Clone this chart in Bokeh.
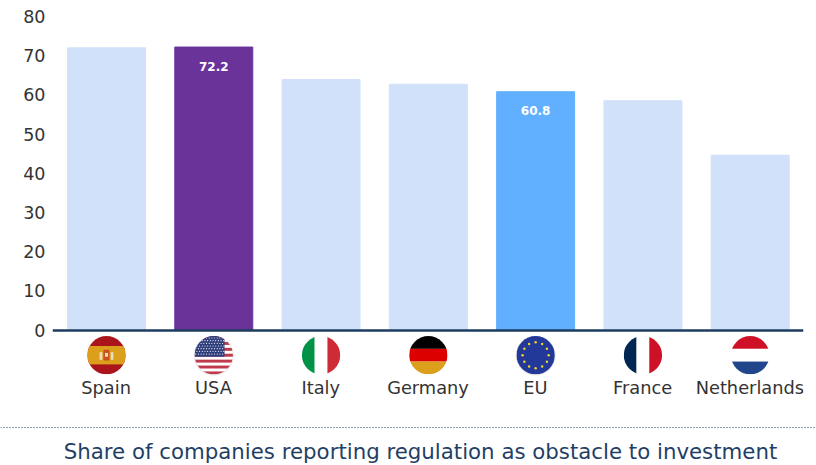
import math
from urllib.parse import quote
from bokeh.embed import file_html
from bokeh.layouts import column
from bokeh.models import ColumnDataSource, FactorRange, FixedTicker, Range1d, Span
from bokeh.plotting import figure
from bokeh.resources import INLINE
from bokeh.core.properties import value
from bokeh.transform import dodge

countries = ["Spain", "USA", "Italy", "Germany", "EU", "France", "Netherlands"]
shares = [72.0, 72.2, 63.9, 62.7, 60.8, 58.5, 44.6]
bar_colors = ["#d0e1f9", "#69339a", "#d0e1f9", "#d0e1f9", "#60b0ff", "#d0e1f9", "#d0e1f9"]
value_labels = ["", "72.2", "", "", "60.8", "", ""]
y_ticks = [0, 10, 20, 30, 40, 50, 60, 70, 80]
caption = "Share of companies reporting regulation as obstacle to investment"
FONT = "DejaVu Sans"


def stripes_h(*cols):
    return "".join(f'<rect x="0" y="{y}" width="100" height="{h}" fill="{c}"/>' for y, h, c in cols)


def stripes_v(*cols):
    return "".join(f'<rect x="{x}" y="0" width="{w}" height="100" fill="{c}"/>' for x, w, c in cols)


def us_flag():
    s = stripes_h((0, 100, "#ffffff"))
    for i in range(0, 13, 2):
        s += f'<rect x="0" y="{i * 7.7}" width="100" height="7.7" fill="#bf3a4a"/>'
    s += '<rect x="0" y="0" width="78" height="54" fill="#2f3f7d"/>'
    for r in range(7):
        for c in range(11):
            s += f'<circle cx="{3 + c * 7 + (r % 2) * 3}" cy="{5 + r * 7}" r="1.5" fill="#ffffff"/>'
    return s


def es_flag():
    s = stripes_h((0, 100, "#aa151b"), (26, 48, "#dc9f1b"))
    s += '<rect x="42" y="36" width="16" height="28" rx="3" fill="#c8501e"/>'
    s += '<rect x="32" y="42" width="7" height="20" fill="#e8dcc0"/><rect x="61" y="42" width="7" height="20" fill="#e8dcc0"/>'
    s += '<rect x="46" y="44" width="8" height="10" fill="#e8dcc0"/>'
    return s


def eu_flag():
    s = stripes_h((0, 100, "#22399a"))
    for i in range(12):
        a = i * math.pi / 6
        s += f'<circle cx="{50 + 34 * math.cos(a):.1f}" cy="{50 + 34 * math.sin(a):.1f}" r="3.2" fill="#f5d327"/>'
    return s


flag_art = {
    "Spain": es_flag(),
    "USA": us_flag(),
    "Italy": stripes_v((0, 33.4, "#009247"), (33.4, 33.2, "#ffffff"), (66.6, 33.4, "#ce2b37")),
    "Germany": stripes_h((0, 33.4, "#000000"), (33.4, 33.2, "#dd0000"), (66.6, 33.4, "#dc9f1b")),
    "EU": eu_flag(),
    "France": stripes_v((0, 33.4, "#002654"), (33.4, 33.2, "#ffffff"), (66.6, 33.4, "#ce1126")),
    "Netherlands": stripes_h((0, 33.4, "#ce1126"), (33.4, 33.2, "#ffffff"), (66.6, 33.4, "#21468b")),
}
shadow = {"USA", "EU"}


def flag_uri(name):
    sh = ('<circle cx="60" cy="61" r="52" fill="#000000" fill-opacity="0.10"/>'
          if name in shadow else "")
    svg = ('<svg xmlns="http://www.w3.org/2000/svg" width="46" height="46" viewBox="0 0 120 120">'
           '<defs><clipPath id="c"><circle cx="50" cy="50" r="50"/></clipPath></defs>'
           f'{sh}<g transform="translate(10 10)"><g clip-path="url(#c)">{flag_art[name]}</g></g></svg>')
    return "data:image/svg+xml," + quote(svg)


PX = 3.919
H = 410
ZERO = 329.5
p = figure(
    width=816, height=H, output_backend="svg", toolbar_location=None,
    x_range=FactorRange(factors=countries, factor_padding=0, range_padding=0),
    y_range=Range1d(-(H - ZERO) / PX, ZERO / PX),
    min_border_left=52, min_border_right=13, min_border_top=0, min_border_bottom=0,
    outline_line_color=None,
)
p.grid.visible = False
src = ColumnDataSource(dict(c=countries, v=shares, col=bar_colors, lab=value_labels,
                            url=[flag_uri(c) for c in countries],
                            fy=[-25.2 / PX] * len(countries)))
p.vbar(x=dodge("c", 0.0033, range=p.x_range), top="v", width=78 / 107.29, color="col", source=src)
p.text(x=dodge("c", 0.0033, range=p.x_range), y="v", text="lab", source=src, text_color="#ffffff",
       text_align="center", text_baseline="middle", y_offset=19, text_font=value(FONT),
       text_font_style="bold", text_font_size="12px")
p.image_url(url="url", x=dodge("c", 0.0033, range=p.x_range), y="fy", w=46, h=46,
            w_units="screen", h_units="screen", anchor="center", source=src)

xa = p.xaxis[0]
xa.fixed_location = 0
xa.axis_line_color = "#1c3d5f"
xa.axis_line_width = 2.5
xa.major_tick_line_color = None
xa.minor_tick_line_color = None
xa.major_label_standoff = 41
xa.major_label_text_font = FONT
xa.major_label_text_font_size = "17.8px"
xa.major_label_text_color = "#333333"

ya = p.yaxis[0]
ya.ticker = FixedTicker(ticks=y_ticks)
ya.axis_line_color = None
ya.major_tick_line_color = None
ya.minor_tick_line_color = None
ya.major_label_standoff = 1
ya.major_label_text_font = FONT
ya.major_label_text_font_size = "17.5px"
ya.major_label_text_color = "#333333"

q = figure(
    width=816, height=55, output_backend="svg", toolbar_location=None,
    x_range=Range1d(0, 816), y_range=Range1d(55, 0),
    min_border=0, outline_line_color=None, x_axis_type=None, y_axis_type=None,
)
q.grid.visible = False
q.add_layout(Span(location=17, dimension="width", line_color="#1c3d5f", line_width=1, line_dash="1 2"))
q.text(x=[420], y=[41], text=[caption], text_color="#1f3f66", text_align="center",
       text_baseline="middle", text_font=value(FONT), text_font_size="21.3px")

page = column(column(p), column(q), spacing=0)
open("out.html", "w").write(file_html(page, INLINE))
